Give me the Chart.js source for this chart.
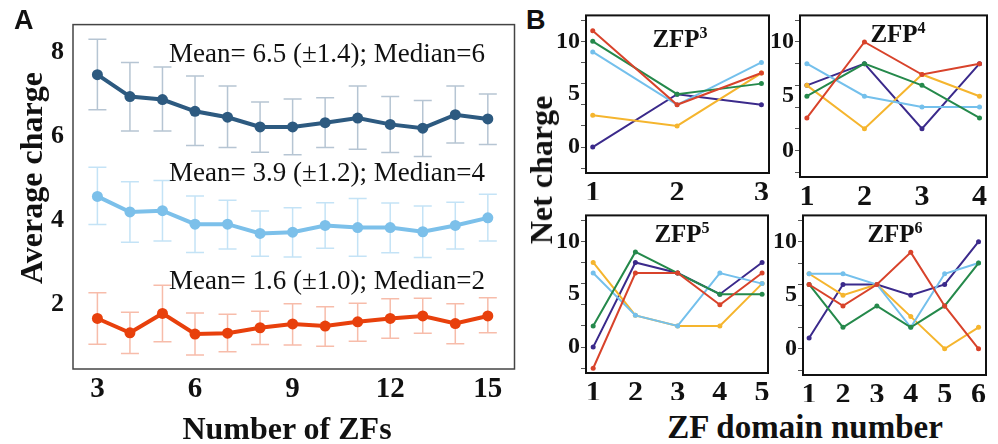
<!DOCTYPE html>
<html>
<head>
<meta charset="utf-8">
<script src="https://cdn.jsdelivr.net/npm/chart.js@4.4.1/dist/chart.umd.min.js"></script>
<style>
  html, body { margin: 0; padding: 0; background: #fff; }
  #figure { position: relative; width: 998px; height: 444px; overflow: hidden; }
  canvas { position: absolute; }
  .label { position: absolute; font-family: "Liberation Serif", "Times New Roman", serif; font-weight: bold; color: #111; white-space: nowrap; line-height: 1; }
  .letter { font-family: "Liberation Sans", Arial, sans-serif; font-size: 27px; }
  .axis-title { font-size: 32px; transform: translate(-50%, -50%); }
  .axis-title.vertical { transform: translate(-50%, -50%) rotate(-90deg); }
  .panel-title { font-size: 25px; transform: translateX(-50%); }
  .panel-title sup { font-size: 16px; vertical-align: 9px; }
</style>
</head>
<body>
<div id="figure">
  <canvas id="chartA" width="520" height="444" style="left:0;top:0"></canvas>
  <canvas id="chartZfp3" width="220" height="200" style="left:555px;top:0"></canvas>
  <canvas id="chartZfp4" width="225" height="205" style="left:769px;top:0"></canvas>
  <canvas id="chartZfp5" width="220" height="200" style="left:555px;top:200px"></canvas>
  <canvas id="chartZfp6" width="222" height="202" style="left:772px;top:200px"></canvas>

  <div class="label letter" style="left:14px;top:7px">A</div>
  <div class="label letter" style="left:526px;top:7px">B</div>
  <div class="label axis-title vertical" style="left:31px;top:178px">Average charge</div>
  <div class="label axis-title" style="left:287px;top:428px">Number of ZFs</div>
  <div class="label axis-title vertical" style="left:541px;top:170px">Net charge</div>
  <div class="label axis-title" style="left:805px;top:427px;font-size:33px">ZF domain number</div>
  <div class="label panel-title" style="left:680px;top:25px">ZFP<sup>3</sup></div>
  <div class="label panel-title" style="left:898px;top:20px">ZFP<sup>4</sup></div>
  <div class="label panel-title" style="left:682px;top:220px">ZFP<sup>5</sup></div>
  <div class="label panel-title" style="left:895px;top:220px">ZFP<sup>6</sup></div>
</div>
<script>
// panel A: average charge by number of zinc fingers
const zfCounts = [3, 4, 5, 6, 7, 8, 9, 10, 11, 12, 13, 14, 15];
const highMean = [7.46, 6.94, 6.87, 6.59, 6.45, 6.22, 6.22, 6.32, 6.43, 6.28, 6.19, 6.51, 6.41];
const highUpper = [8.30, 7.75, 7.64, 7.43, 7.19, 6.81, 6.88, 6.91, 7.19, 6.94, 6.85, 7.19, 7.00];
const highLower = [6.63, 6.12, 6.12, 5.78, 5.73, 5.62, 5.56, 5.73, 5.69, 5.61, 5.52, 5.84, 5.80];
const midMean = [4.57, 4.20, 4.23, 3.91, 3.91, 3.69, 3.72, 3.88, 3.83, 3.83, 3.73, 3.88, 4.06];
const midUpper = [5.26, 4.92, 4.95, 4.58, 4.48, 4.22, 4.30, 4.42, 4.52, 4.41, 4.34, 4.43, 4.62];
const midLower = [3.90, 3.48, 3.51, 3.24, 3.32, 3.15, 3.13, 3.34, 3.15, 3.23, 3.12, 3.32, 3.51];
const lowMean = [1.67, 1.33, 1.79, 1.30, 1.32, 1.45, 1.54, 1.49, 1.59, 1.67, 1.73, 1.55, 1.73];
const lowUpper = [2.28, 1.82, 2.46, 1.80, 1.77, 1.84, 2.02, 1.95, 2.03, 2.14, 2.15, 2.02, 2.16];
const lowLower = [1.06, 0.84, 1.12, 0.80, 0.88, 1.05, 1.04, 1.01, 1.13, 1.20, 1.32, 1.07, 1.33];
const summaryLabels = [
  "Mean= 6.5 (\u00b11.4); Median=6",
  "Mean= 3.9 (\u00b11.2); Median=4",
  "Mean= 1.6 (\u00b11.0); Median=2"
];

// panel B: net charge per ZF domain, rows in seriesColors order
const seriesColors = ["#d8432b", "#25894b", "#74c0ec", "#f5b52e", "#3b2a8b"];
const zfp3Domains = [1, 2, 3];
const zfp3Values = [[11, 4, 7], [10, 5, 6], [9, 4, 8], [3, 2, 7], [0, 5, 4]];
const zfp4Domains = [1, 2, 3, 4];
const zfp4Values = [[3, 10, 7, 8], [5, 8, 6, 3], [8, 5, 4, 4], [6, 2, 7, 5], [6, 8, 2, 8]];
const zfp5Domains = [1, 2, 3, 4, 5];
const zfp5Values = [[-2, 7, 7, 4, 7], [2, 9, 7, 5, 5], [7, 3, 2, 7, 6], [8, 3, 2, 2, 6], [0, 8, 7, 5, 8]];
const zfp6Domains = [1, 2, 3, 4, 5, 6];
const zfp6Values = [[6, 4, 6, 9, 4, 0], [6, 2, 4, 2, 4, 8], [7, 7, 6, 2, 7, 8], [7, 5, 6, 3, 0, 2], [1, 6, 6, 5, 6, 10]];
const netChargeMarks = [-2, 0, 2, 4, 5, 6, 8, 10, 12];
const netChargeLabels = [0, 5, 10];

const serif = "'Liberation Serif', 'Times New Roman', serif";

const boxPlugin = {
  id: "box",
  afterDraw(chart, args, opts) {
    const { ctx, chartArea } = chart;
    ctx.save();
    ctx.strokeStyle = opts.color || "#333";
    ctx.lineWidth = opts.width || 1.5;
    ctx.strokeRect(chartArea.left, chartArea.top, chartArea.right - chartArea.left, chartArea.bottom - chartArea.top);
    ctx.restore();
  }
};

const errorBarPlugin = {
  id: "errorBars",
  beforeDatasetsDraw(chart) {
    const { ctx, scales: { x, y } } = chart;
    chart.data.datasets.forEach((ds) => {
      if (!ds.errUpper) return;
      ctx.save();
      ctx.strokeStyle = ds.errColor;
      ctx.lineWidth = 1.5;
      ds.data.forEach((pt, i) => {
        const px = x.getPixelForValue(pt.x);
        const top = y.getPixelForValue(ds.errUpper[i]);
        const bottom = y.getPixelForValue(ds.errLower[i]);
        ctx.beginPath();
        ctx.moveTo(px, top);
        ctx.lineTo(px, bottom);
        ctx.moveTo(px - 9, top);
        ctx.lineTo(px + 9, top);
        ctx.moveTo(px - 9, bottom);
        ctx.lineTo(px + 9, bottom);
        ctx.stroke();
      });
      ctx.restore();
    });
  }
};

const summaryPlugin = {
  id: "summary",
  afterDatasetsDraw(chart, args, opts) {
    const { ctx, scales: { x, y } } = chart;
    ctx.save();
    ctx.font = "27px " + serif;
    ctx.fillStyle = "#111";
    ctx.textBaseline = "middle";
    opts.texts.forEach((text, i) => {
      ctx.fillText(text, x.getPixelForValue(opts.xValue), y.getPixelForValue(opts.yValues[i]));
    });
    ctx.restore();
  }
};

function meanSeries(means, upper, lower, color, errColor) {
  return {
    data: zfCounts.map((n, i) => ({ x: n, y: means[i] })),
    errUpper: upper,
    errLower: lower,
    errColor: errColor,
    borderColor: color,
    backgroundColor: color,
    borderWidth: 4,
    pointRadius: 5.5,
    pointBorderWidth: 0,
    tension: 0
  };
}

new Chart(document.getElementById("chartA"), {
  type: "line",
  data: {
    datasets: [
      meanSeries(highMean, highUpper, highLower, "#2d5a80", "rgba(45, 90, 128, 0.35)"),
      meanSeries(midMean, midUpper, midLower, "#7cc0ea", "rgba(124, 192, 234, 0.45)"),
      meanSeries(lowMean, lowUpper, lowLower, "#e8400c", "rgba(232, 64, 12, 0.35)")
    ]
  },
  options: {
    responsive: false,
    animation: false,
    layout: { padding: { top: 18, right: 3, left: 0, bottom: 0 } },
    plugins: {
      legend: { display: false },
      tooltip: { enabled: false },
      box: { color: "#444", width: 1.5 },
      summary: { texts: summaryLabels, xValue: 5.2, yValues: [7.92, 5.1, 2.53] }
    },
    scales: {
      x: {
        type: "linear",
        min: 2.25,
        max: 15.82,
        afterFit: (scale) => { scale.height = 75; },
        grid: { display: false, drawTicks: false },
        border: { display: false },
        ticks: {
          stepSize: 1,
          includeBounds: false,
          autoSkip: false,
          maxRotation: 0,
          padding: 3,
          color: "#111",
          font: { family: serif, size: 29, weight: "bold" },
          callback: (v) => (v % 3 === 0 ? v : "")
        }
      },
      y: {
        min: 0.47,
        max: 8.65,
        afterFit: (scale) => { scale.width = 73; },
        grid: { display: false, drawTicks: false },
        border: { display: false },
        ticks: {
          stepSize: 2,
          includeBounds: false,
          padding: 9,
          color: "#111",
          font: { family: serif, size: 26, weight: "bold" }
        }
      }
    }
  },
  plugins: [errorBarPlugin, boxPlugin, summaryPlugin]
});

function drawDomainPanel(canvasId, domains, values, layout) {
  new Chart(document.getElementById(canvasId), {
    type: "line",
    data: {
      datasets: values.map((row, k) => ({
        data: domains.map((d, i) => ({ x: d, y: row[i] })),
        borderColor: seriesColors[k],
        backgroundColor: seriesColors[k],
        borderWidth: 2,
        pointRadius: 2.5,
        pointBorderWidth: 0,
        tension: 0
      }))
    },
    options: {
      responsive: false,
      animation: false,
      layout: { padding: { top: layout.top, right: layout.right, left: 0, bottom: 0 } },
      plugins: {
        legend: { display: false },
        tooltip: { enabled: false },
        box: { color: "#111", width: 2 }
      },
      scales: {
        x: {
          type: "linear",
          min: layout.xMin,
          max: layout.xMax,
          afterFit: (scale) => { scale.height = layout.xHeight; },
          grid: { display: false, drawTicks: false },
          border: { display: false },
          ticks: {
            stepSize: 1,
            includeBounds: false,
            autoSkip: false,
            maxRotation: 0,
            padding: 2,
            color: "#111",
            font: { family: serif, size: 30, weight: "bold" }
          }
        },
        y: {
          min: -2.45,
          max: 12.45,
          afterFit: (scale) => { scale.width = layout.yWidth; },
          afterBuildTicks: (scale) => { scale.ticks = netChargeMarks.map((v) => ({ value: v })); },
          grid: {
            drawOnChartArea: false,
            drawTicks: true,
            tickLength: 5,
            color: (ctx) => (ctx.tick && ctx.tick.value === 5 ? "rgba(0,0,0,0)" : "#555")
          },
          border: { display: false },
          ticks: {
            autoSkip: false,
            padding: 1,
            color: "#111",
            font: { family: serif, size: 24, weight: "bold" },
            callback: (v) => (netChargeLabels.includes(v) ? v : "")
          }
        }
      }
    },
    plugins: [boxPlugin]
  });
}

drawDomainPanel("chartZfp3", zfp3Domains, zfp3Values, { top: 13, right: 6, xHeight: 27, yWidth: 31, xMin: 0.92, xMax: 3.09 });
drawDomainPanel("chartZfp4", zfp4Domains, zfp4Values, { top: 13, right: 7, xHeight: 28, yWidth: 31, xMin: 0.88, xMax: 4.13 });
drawDomainPanel("chartZfp5", zfp5Domains, zfp5Values, { top: 13, right: 7, xHeight: 27, yWidth: 31, xMin: 0.83, xMax: 5.14 });
drawDomainPanel("chartZfp6", zfp6Domains, zfp6Values, { top: 14, right: 8, xHeight: 27, yWidth: 31, xMin: 0.82, xMax: 6.22 });
</script>
</body>
</html>
